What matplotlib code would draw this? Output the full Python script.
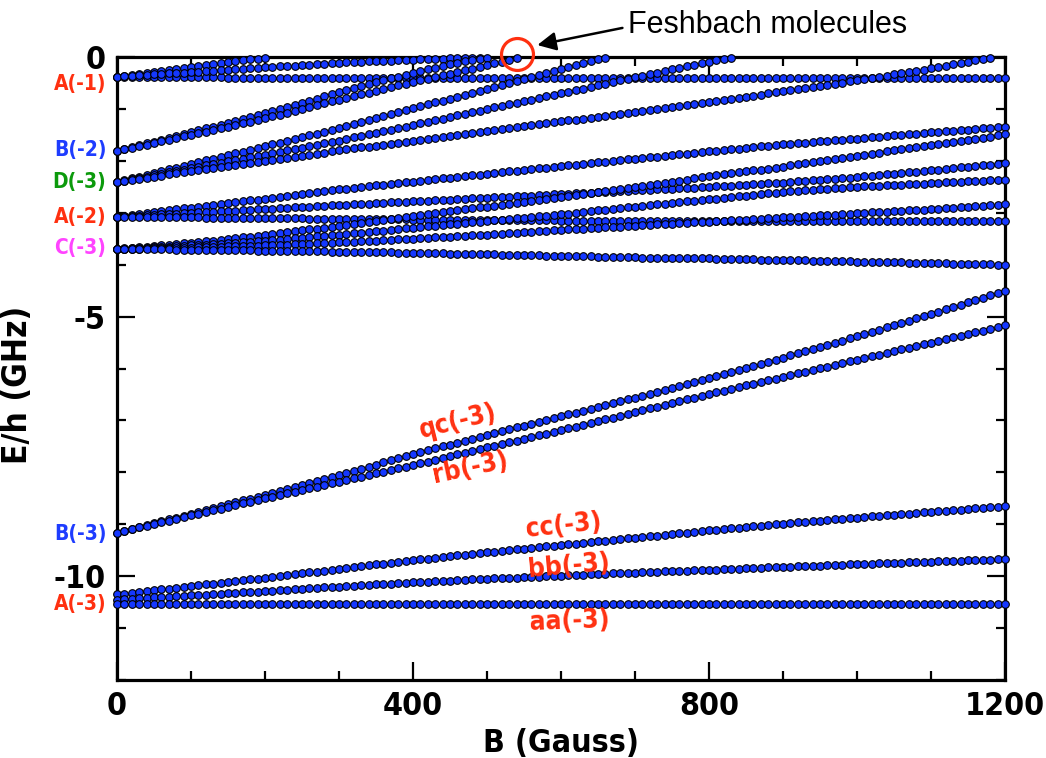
import numpy as np
import matplotlib
matplotlib.use("Agg")
import matplotlib.pyplot as plt
from matplotlib.ticker import MultipleLocator

# ---------------- data ----------------
B_grid = [0, 100, 200, 300, 400, 500, 600, 700, 800, 900, 1000, 1100, 1200]
B_step = 10  # spacing of the computed points (G)

# A(-1) manifold
A1_flat_E = [-0.38, -0.39, -0.40, -0.40, -0.41, -0.41, -0.41, -0.41, -0.41, -0.41, -0.41, -0.41, -0.41]
A1_steep_B = [0, 100, 200]
A1_steep_E = [-0.38, -0.20, -0.01]
A1_mid_B = [0, 100, 200, 300, 400, 490]
A1_mid_E = [-0.38, -0.29, -0.20, -0.11, -0.05, -0.01]
# B(-2) manifold
B2_a_B = [0, 100, 200, 300, 400, 470, 500]
B2_a_E = [-1.81, -1.45, -1.08, -0.68, -0.30, -0.08, -0.01]
B2_b_B = [0, 100, 200, 300, 400, 500, 540]
B2_b_E = [-1.81, -1.50, -1.18, -0.82, -0.48, -0.16, -0.02]
# D(-3) manifold
D3_a_B = [0, 100, 200, 300, 400, 500, 600, 660]
D3_a_E = [-2.41, -2.06, -1.72, -1.37, -0.99, -0.61, -0.23, -0.01]
D3_b_B = [0, 100, 200, 300, 400, 500, 600, 700, 800, 830]
D3_b_E = [-2.41, -2.14, -1.88, -1.61, -1.31, -1.00, -0.70, -0.39, -0.09, -0.01]
D3_c_B = [0, 100, 200, 300, 400, 500, 600, 700, 800, 900, 1000, 1100, 1180]
D3_c_E = [-2.41, -2.20, -2.00, -1.80, -1.61, -1.42, -1.24, -1.06, -0.87, -0.66, -0.45, -0.22, -0.01]
# A(-2) manifold
A2_a_E = [-3.08, -2.90, -2.73, -2.55, -2.40, -2.25, -2.10, -1.96, -1.82, -1.68, -1.57, -1.45, -1.345]
A2_b_E = [-3.08, -3.00, -2.93, -2.85, -2.78, -2.71, -2.64, -2.57, -2.50, -2.42, -2.31, -2.18, -2.05]
A2_c_E = [-3.08, -3.09, -3.10, -3.12, -3.13, -3.14, -3.15, -3.15, -3.15, -3.16, -3.16, -3.16, -3.16]
# C(-3) manifold
C3_a_E = [-3.70, -3.58, -3.43, -3.25, -3.06, -2.88, -2.69, -2.50, -2.30, -2.11, -1.90, -1.70, -1.49]
C3_b_E = [-3.70, -3.63, -3.54, -3.42, -3.29, -3.16, -3.03, -2.88, -2.74, -2.60, -2.50, -2.43, -2.36]
C3_c_E = [-3.70, -3.67, -3.63, -3.57, -3.50, -3.42, -3.33, -3.25, -3.17, -3.09, -3.01, -2.93, -2.84]
C3_d_E = [-3.70, -3.71, -3.73, -3.75, -3.77, -3.80, -3.83, -3.86, -3.88, -3.91, -3.94, -3.97, -4.00]
# B(-3) manifold
qc_E = [-9.16, -8.80, -8.43, -8.05, -7.65, -7.28, -6.92, -6.56, -6.19, -5.79, -5.38, -4.95, -4.50]
rb_E = [-9.16, -8.83, -8.50, -8.18, -7.86, -7.52, -7.19, -6.84, -6.49, -6.16, -5.83, -5.50, -5.17]
# A(-3) manifold
cc_E = [-10.35, -10.19, -10.03, -9.86, -9.69, -9.54, -9.40, -9.26, -9.12, -8.99, -8.87, -8.76, -8.65]
bb_E = [-10.45, -10.37, -10.29, -10.20, -10.12, -10.05, -9.99, -9.93, -9.88, -9.82, -9.77, -9.72, -9.67]
aa_E = [-10.53, -10.53, -10.53, -10.53, -10.53, -10.53, -10.53, -10.53, -10.53, -10.53, -10.53, -10.53, -10.54]

state_labels = ["A(-1)", "B(-2)", "D(-3)", "A(-2)", "C(-3)", "B(-3)", "A(-3)"]
state_label_E = [-0.52, -1.79, -2.40, -3.09, -3.68, -9.19, -10.54]
state_label_colors = ["#ff3010", "#1e3cff", "#0c9a0c", "#ff3010", "#ff44ff", "#1e3cff", "#ff3010"]

curve_labels = ["qc(-3)", "rb(-3)", "cc(-3)", "bb(-3)", "aa(-3)"]
curve_label_B = [461, 478, 603, 611, 612]
curve_label_E = [-7.03, -7.93, -9.03, -9.81, -10.87]
curve_label_rot = [14, 12, 6, 5, 2]

y_major_ticks = [0, -5, -10]
y_major_labels = ["0", "-5", "-10"]
x_major_ticks = [0, 400, 800, 1200]
x_major_labels = ["0", "400", "800", "1200"]

feshbach_B, feshbach_E = 540, 0.058
feshbach_text = "Feshbach molecules"

levels = [
    (B_grid, A1_flat_E), (A1_steep_B, A1_steep_E), (A1_mid_B, A1_mid_E),
    (B2_a_B, B2_a_E), (B2_b_B, B2_b_E),
    (D3_a_B, D3_a_E), (D3_b_B, D3_b_E), (D3_c_B, D3_c_E),
    (B_grid, A2_a_E), (B_grid, A2_b_E), (B_grid, A2_c_E),
    (B_grid, C3_a_E), (B_grid, C3_b_E), (B_grid, C3_c_E), (B_grid, C3_d_E),
    (B_grid, qc_E), (B_grid, rb_E),
    (B_grid, cc_E), (B_grid, bb_E), (B_grid, aa_E),
]

# ---------------- figure ----------------
FONT = dict(family="DejaVu Sans", weight="bold", stretch="condensed")

fig = plt.figure(figsize=(10.46, 7.58), dpi=100)
ax = fig.add_axes([0.1119, 0.1029, 0.8489, 0.8219])

for kb, ke in levels:
    bs = np.arange(kb[0], kb[-1] + 0.01, B_step)
    es = np.interp(bs, kb, ke)
    ax.plot(bs, es, linestyle="none", marker="o", markersize=5.5,
            markerfacecolor="#1538ff", markeredgecolor="black",
            markeredgewidth=0.8, clip_on=False, zorder=3)

ax.set_xlim(0, 1200)
ax.set_ylim(-12, 0)

ax.xaxis.set_minor_locator(MultipleLocator(100))
ax.yaxis.set_minor_locator(MultipleLocator(1))
ax.set_xticks(x_major_ticks)
ax.set_xticklabels(x_major_labels)
ax.set_yticks(y_major_ticks)
ax.set_yticklabels(y_major_labels)

ax.tick_params(which="both", direction="in", top=True, right=True, width=1.6, color="black")
ax.tick_params(which="major", length=13, pad=8)
ax.tick_params(which="minor", length=6.5)
for lab in ax.get_xticklabels() + ax.get_yticklabels():
    lab.set_fontsize(23)
    lab.set_fontweight("bold")
    lab.set_fontstretch("condensed")
for sp in ax.spines.values():
    sp.set_linewidth(2.3)

ax.set_xlabel("B (Gauss)", fontsize=23, labelpad=4, **FONT)
ax.set_ylabel("E/h (GHz)", fontsize=24, **FONT)
ax.yaxis.set_label_coords(-0.094, 0.4735)

# state labels on the left
ytrans = ax.get_yaxis_transform()
for txt, e, c in zip(state_labels, state_label_E, state_label_colors):
    ax.text(-0.012, e, txt, transform=ytrans, ha="right", va="center",
            color=c, fontsize=15, clip_on=False, **FONT)

# curve labels
for txt, b, e, r in zip(curve_labels, curve_label_B, curve_label_E, curve_label_rot):
    ax.text(b, e, txt, ha="center", va="center", rotation=r, color="#ff3010",
            fontsize=19, zorder=4, **FONT)

# Feshbach molecules annotation
ax.plot([feshbach_B], [feshbach_E], marker="o", markersize=23, markerfacecolor="none",
        markeredgecolor="#ff3010", markeredgewidth=2.3, clip_on=False, zorder=5)
ax.annotate("", xy=(568, 0.23), xytext=(683, 0.56), xycoords="data",
            annotation_clip=False,
            arrowprops=dict(arrowstyle="-|>", color="black", lw=1.8,
                            mutation_scale=28, shrinkA=0, shrinkB=0))
ax.text(690, 0.62, feshbach_text, ha="left", va="center", fontsize=22,
        family="Liberation Sans", clip_on=False)

fig.savefig("out.png", dpi=100)
